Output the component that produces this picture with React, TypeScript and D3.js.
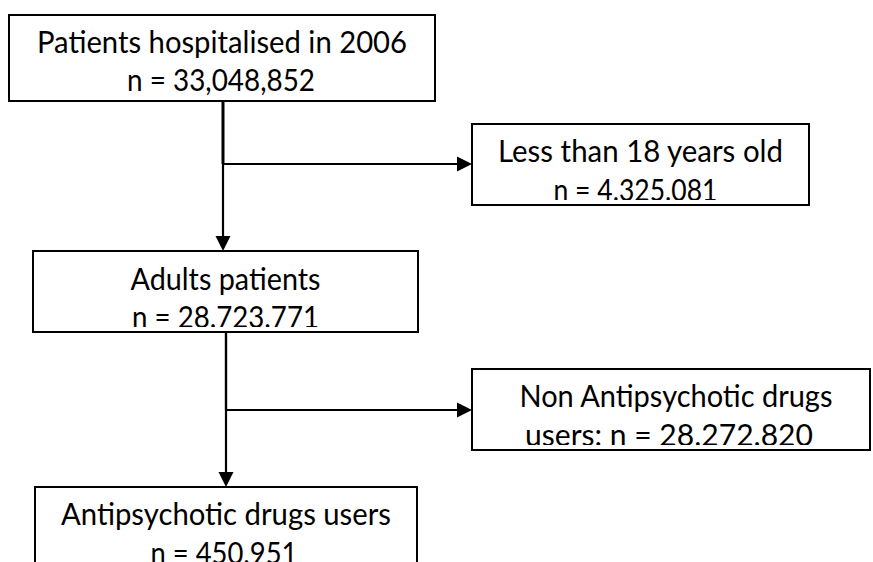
import React from 'react';
import * as d3 from 'd3';

// flow steps: title line + count line
const stepTitles = [
  'Patients hospitalised in 2006',
  'Less than 18 years old',
  'Adults patients',
  'Non Antipsychotic drugs',
  'Antipsychotic drugs users',
];
const stepCounts = [
  'n = 33,048,852',
  'n = 4.325.081',
  'n = 28.723.771',
  'users: n = 28.272.820',
  'n = 450.951',
];

// layout (pixels)
const boxes = [
  { x0: 9, x1: 435, y0: 15, y1: 101, w: [370, 188], dx: [0, -1], b: [53, 91] },
  { x0: 472, x1: 809, y0: 124, y1: 205, w: [285, 164], dx: [0, -5], b: [162, 201] },
  { x0: 33, x1: 418, y0: 251, y1: 332, w: [190, 187], dx: [0, 0], b: [290, 328] },
  { x0: 472, x1: 870, y0: 369, y1: 450, w: [313, 288], dx: [5, -2], b: [407, 446] },
  { x0: 35, x1: 417, y0: 487, y1: 600, w: [330, 147], dx: [0, -2], b: [525, 564] },
];
const trunkX = [223, 226];
const branchY = [164, 410];

const FONT = 'Lato, "Open Sans", sans-serif';

export default function App() {
  const W = 873;
  const H = 562;
  const line = d3.line<[number, number]>();

  const arrowHead = (tx: number, ty: number, dir: 'right' | 'down') => {
    const L = 15, h = 7.5;
    const pts: [number, number][] =
      dir === 'right'
        ? [[tx, ty], [tx - L, ty - h], [tx - L, ty + h]]
        : [[tx, ty], [tx - h, ty - L], [tx + h, ty - L]];
    return line(pts) + 'Z';
  };

  // each trunk: from box bottom down to next vertical box, with a side branch
  const trunks = [
    { src: boxes[0], side: boxes[1], down: boxes[2], x: trunkX[0], y: branchY[0] },
    { src: boxes[2], side: boxes[3], down: boxes[4], x: trunkX[1], y: branchY[1] },
  ];

  return (
    <svg
      width={W}
      height={H}
      style={{ position: 'absolute', left: 0, top: 0, background: '#fff' }}
      fontFamily={FONT}
    >
      <defs>
        {boxes.map((b, i) => (
          <clipPath id={`clip${i}`} key={i}>
            <rect x={b.x0} y={b.y0} width={b.x1 - b.x0} height={b.y1 - b.y0 - 5} />
          </clipPath>
        ))}
      </defs>

      {trunks.map((t, i) => (
        <g key={i} stroke="#000" fill="none">
          <path d={line([[t.x, t.src.y1], [t.x, t.y]])!} strokeWidth={i === 0 ? 3 : 2.4} />
          <path d={line([[t.x, t.y], [t.x, t.down.y0 - 12]])!} strokeWidth={2.2} />
          <path d={line([[t.x, t.y], [t.side.x0 - 12, t.y]])!} strokeWidth={2.2} />
          <path d={arrowHead(t.x, t.down.y0, 'down')} fill="#000" stroke="none" />
          <path d={arrowHead(t.side.x0, t.y, 'right')} fill="#000" stroke="none" />
        </g>
      ))}

      {boxes.map((b, i) => {
        const cx = (b.x0 + b.x1) / 2;
        return (
          <g key={i}>
            <rect
              x={b.x0}
              y={b.y0}
              width={b.x1 - b.x0}
              height={b.y1 - b.y0}
              fill="#fff"
              stroke="#000"
              strokeWidth={2}
            />
            <g clipPath={`url(#clip${i})`} fill="#000" fontSize={30} textAnchor="middle">
              <text x={cx + b.dx[0]} y={b.b[0]} textLength={b.w[0]} lengthAdjust="spacingAndGlyphs">
                {stepTitles[i]}
              </text>
              <text x={cx + b.dx[1]} y={b.b[1]} textLength={b.w[1]} lengthAdjust="spacingAndGlyphs">
                {stepCounts[i]}
              </text>
            </g>
          </g>
        );
      })}
    </svg>
  );
}
